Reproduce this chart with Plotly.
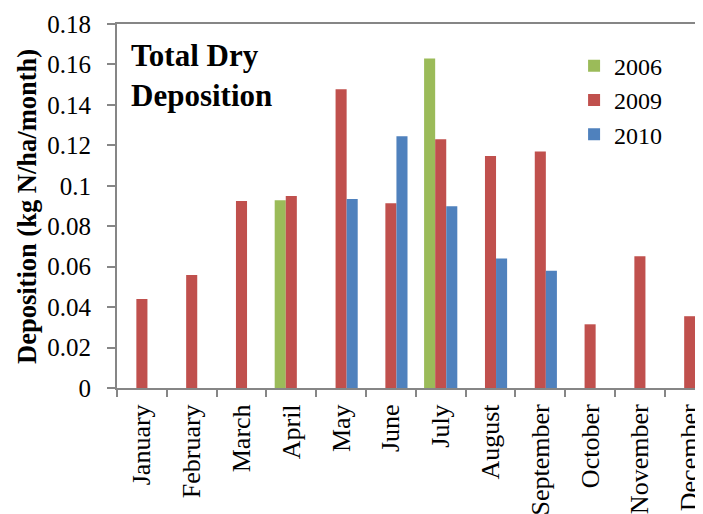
import plotly.graph_objects as go

months = ["January", "February", "March", "April", "May", "June", "July",
          "August", "September", "October", "November", "December"]
dep_2006 = [None, None, None, 0.0928, None, None, 0.163, None, None, None, None, None]
dep_2009 = [0.044, 0.0559, 0.0925, 0.095, 0.1477, 0.0913, 0.123, 0.1147, 0.117, 0.0315, 0.0651, 0.0355]
dep_2010 = [None, None, None, None, 0.0935, 0.1245, 0.0899, 0.0641, 0.058, None, None, None]
y_ticks = [0, 0.02, 0.04, 0.06, 0.08, 0.1, 0.12, 0.14, 0.16, 0.18]
y_tick_text = ["0", "0.02", "0.04", "0.06", "0.08", "0.1", "0.12", "0.14", "0.16", "0.18"]

FONT = "Liberation Serif"
AXIS_COLOR = "#868686"

fig = go.Figure()
fig.add_trace(go.Bar(name="2006", x=months, y=dep_2006, marker=dict(color="#9BBB59", line=dict(width=0))))
fig.add_trace(go.Bar(name="2009", x=months, y=dep_2009, marker=dict(color="#C0504D", line=dict(width=0))))
fig.add_trace(go.Bar(name="2010", x=months, y=dep_2010, marker=dict(color="#4F81BD", line=dict(width=0))))

# page body has an 8px margin, so the figure is drawn 8px in from the top-left
fig.update_layout(
    width=695, height=506,
    margin=dict(l=109, r=0, t=16, b=126),
    paper_bgcolor="white", plot_bgcolor="white",
    barmode="group", bargap=0.333, bargroupgap=0,
    font=dict(family=FONT, size=25, color="black"),
    showlegend=True,
    legend=dict(x=0.78, y=0.946, xanchor="left", yanchor="top",
                bgcolor="rgba(0,0,0,0)", font=dict(size=24, family=FONT)),
    xaxis=dict(
        range=[-0.5, 11.267], showline=True, linecolor=AXIS_COLOR, linewidth=2,
        mirror=True, ticks="outside", ticklen=7, tickcolor=AXIS_COLOR, tickwidth=2,
        tickson="boundaries", tickangle=-90, showgrid=False, automargin=False,
        ticklabelstandoff=4, tickfont=dict(size=26, family=FONT),
    ),
    yaxis=dict(
        range=[0, 0.18], tickvals=y_ticks, ticktext=y_tick_text,
        showline=True, linecolor=AXIS_COLOR, linewidth=2, mirror=False,
        ticks="outside", ticklen=8, tickcolor=AXIS_COLOR, tickwidth=2,
        showgrid=False, zeroline=False, automargin=False, ticklabelstandoff=11,
        tickfont=dict(size=25, family=FONT),
    ),
    annotations=[
        dict(text="<b>Deposition (kg N/ha/month)</b>", textangle=-90,
             xref="paper", yref="paper", x=-0.1536, y=0.5, xanchor="center", yanchor="middle",
             showarrow=False, font=dict(size=26.5, family=FONT)),
        dict(text="<b>Total Dry<br>Deposition</b>", align="left",
             xref="paper", yref="paper", x=0.02, y=0.967, xanchor="left", yanchor="top",
             showarrow=False, font=dict(size=31, family=FONT)),
    ],
)

fig.write_html("out.html")
